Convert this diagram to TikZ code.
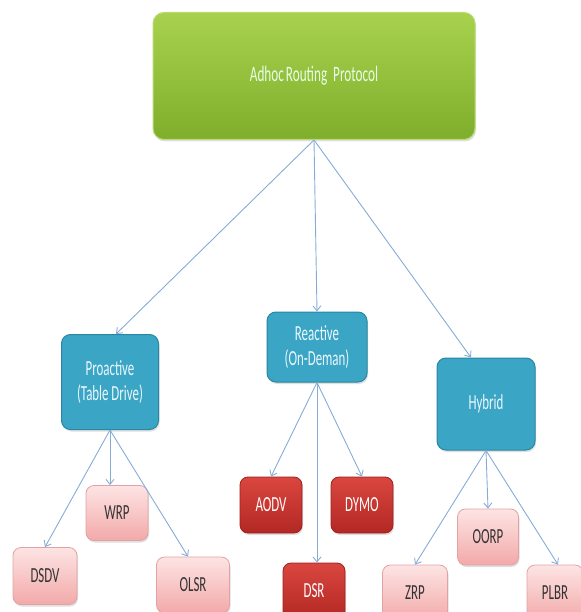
\documentclass[tikz,border=0pt]{standalone}
\usepackage{fontspec}
\newfontfamily\boxfont[FakeStretch=0.6]{Carlito}
\usetikzlibrary{arrows.meta,shadows}
\definecolor{edgec}{HTML}{86ACD6}
\definecolor{gtop}{HTML}{A8D24E}
\definecolor{gbot}{HTML}{7FAE2C}
\definecolor{gdraw}{HTML}{B9DB74}
\definecolor{tealf}{HTML}{3AA5C4}
\definecolor{teald}{HTML}{2A86A2}
\definecolor{ptop}{HTML}{FDE4E4}
\definecolor{pbot}{HTML}{F3A9A9}
\definecolor{pdraw}{HTML}{E2A2A2}
\definecolor{rtop}{HTML}{DA4640}
\definecolor{rbot}{HTML}{B32823}
\definecolor{rdraw}{HTML}{9E2020}
\tikzset{
  x=1pt,y=-1pt,
  rootbox/.style={draw=gdraw,line width=1pt,rounded corners=11pt,top color=gtop,bottom color=gbot,
    text=white!90!green,font=\boxfont\fontsize{22}{26}\selectfont,align=center,
    drop shadow={shadow xshift=1pt,shadow yshift=-2pt,opacity=0.25}},
  midbox/.style={draw=teald,line width=1pt,rounded corners=9pt,fill=tealf,
    text=white!92!cyan,font=\boxfont\fontsize{21.5}{25}\selectfont,align=center,
    drop shadow={shadow xshift=1pt,shadow yshift=-2pt,opacity=0.25}},
  pinkbox/.style={draw=pdraw,line width=0.8pt,rounded corners=8pt,top color=ptop,bottom color=pbot,
    text=black!80,font=\boxfont\fontsize{21.5}{24}\selectfont,
    drop shadow={shadow xshift=1pt,shadow yshift=-2pt,opacity=0.25}},
  redbox/.style={draw=rdraw,line width=0.8pt,rounded corners=8pt,top color=rtop,bottom color=rbot,
    text=white,font=\boxfont\fontsize{21.5}{24}\selectfont,
    drop shadow={shadow xshift=1pt,shadow yshift=-2pt,opacity=0.25}},
  link/.style={draw=edgec,line width=0.9pt,-{Straight Barb[length=5pt,width=8pt]}}
}
\begin{document}
\begin{tikzpicture}
\useasboundingbox (0,0) rectangle (580,612);
\node[rootbox,minimum width=322pt,minimum height=127pt] (root) at (314,76) {Adhoc\hspace{2pt}Routing\ \ Protocol};
\node[midbox,minimum width=97pt,minimum height=95pt] (pro) at (110,382) {Proactive\\(Table Drive)};
\node[midbox,minimum width=100pt,minimum height=70pt] (rea) at (317,347) {Reactive\\(On-Deman)};
\node[midbox,minimum width=98pt,minimum height=92pt] (hyb) at (486,404) {Hybrid};
\node[pinkbox,minimum width=64pt,minimum height=57pt] (dsdv) at (45,576) {DSDV};
\node[pinkbox,minimum width=62pt,minimum height=55pt] (wrp) at (117,513) {WRP};
\node[pinkbox,minimum width=73pt,minimum height=56pt] (olsr) at (193,585) {OLSR};
\node[redbox,minimum width=62pt,minimum height=56pt] (aodv) at (271,505) {AODV};
\node[redbox,minimum width=62pt,minimum height=56pt] (dymo) at (362,505) {DYMO};
\node[redbox,minimum width=62pt,minimum height=56pt] (dsr) at (314,591) {DSR};
\node[pinkbox,minimum width=65pt,minimum height=56pt] (zrp) at (415,593) {ZRP};
\node[pinkbox,minimum width=61pt,minimum height=56pt] (oorp) at (488,537) {OORP};
\node[pinkbox,minimum width=56pt,minimum height=56pt] (plbr) at (555,593) {PLBR};
\draw[link] (root.south) -- ([xshift=6pt]pro.north);
\draw[link] (root.south) -- (rea.north);
\draw[link] (root.south) -- ([xshift=-15pt]hyb.north);
\draw[link] (pro.south) -- (dsdv.north);
\draw[link] (pro.south) -- ([xshift=-7pt]wrp.north);
\draw[link] (pro.south) -- ([xshift=-5pt]olsr.north);
\draw[link] (rea.south) -- (aodv.north);
\draw[link] (rea.south) -- (dymo.north);
\draw[link] (rea.south) -- ([xshift=3pt]dsr.north);
\draw[link] (hyb.south) -- (zrp.north);
\draw[link] (hyb.south) -- (oorp.north);
\draw[link] (hyb.south) -- ([xshift=3pt]plbr.north);
\end{tikzpicture}
\end{document}
